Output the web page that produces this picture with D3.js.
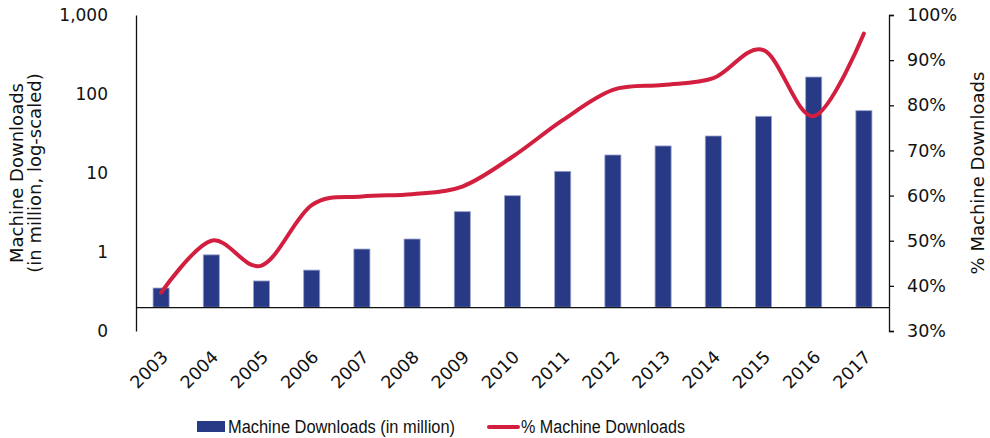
<!DOCTYPE html>
<html>
<head>
<meta charset="utf-8">
<script src="https://cdn.jsdelivr.net/npm/d3@7"></script>
<style>
  html, body { margin: 0; padding: 0; background: #fff; }
  svg { display: block; }
  .axis-label { font-family: "DejaVu Sans", sans-serif; fill: #111; }
  .legend-text { font-family: "Liberation Sans", sans-serif; fill: #111; }
</style>
</head>
<body>
<svg id="chart" width="990" height="438"></svg>
<script>
// Yearly categories
const years = ["2003","2004","2005","2006","2007","2008","2009","2010","2011","2012","2013","2014","2015","2016","2017"];
// Machine downloads, in million (left, log axis)
const downloads = [0.35, 0.92, 0.43, 0.59, 1.09, 1.46, 3.24, 5.16, 10.5, 16.9, 22.0, 29.4, 52.2, 164, 61.5];
// Share of downloads made by machines (right axis)
const machineShare = [0.385, 0.50, 0.445, 0.579, 0.598, 0.603, 0.62, 0.686, 0.767, 0.834, 0.845, 0.86, 0.922, 0.776, 0.959];
// Axis tick values
const leftTicks = [0.1, 1, 10, 100, 1000];
const rightTicks = [0.3, 0.4, 0.5, 0.6, 0.7, 0.8, 0.9, 1.0];
// Value where the category axis crosses the log axis
const axisCross = 0.2;

const barColor = "#283a85";
const lineColor = "#d31f3f";

const svg = d3.select("#chart");
const plot = { left: 136, right: 889, top: 15, bottom: 331 };

const x = d3.scaleBand()
  .domain(years)
  .range([plot.left, plot.right])
  .paddingInner(0.68)
  .paddingOuter(0.34);

const yLeft = d3.scaleLog().domain([0.1, 1000]).range([plot.bottom, plot.top]);
const yRight = d3.scaleLinear().domain([0.3, 1.0]).range([plot.bottom, plot.top]);

const baseY = yLeft(axisCross);

// Bars
svg.append("g")
  .selectAll("rect")
  .data(years)
  .join("rect")
  .attr("x", d => x(d))
  .attr("width", x.bandwidth())
  .attr("y", (d, i) => yLeft(downloads[i]))
  .attr("height", (d, i) => baseY - yLeft(downloads[i]))
  .attr("fill", barColor)
  .attr("stroke", "#9aa3cc")
  .attr("stroke-width", 0.8);

// Left axis (log)
const leftAxis = d3.axisLeft(yLeft)
  .tickValues(leftTicks)
  .tickSize(0)
  .tickPadding(28)
  .tickFormat(d => d < 1 ? "0" : d3.format(",")(d));
const gL = svg.append("g").attr("transform", `translate(${plot.left},0)`).call(leftAxis);
gL.select(".domain").attr("stroke", "#111").attr("stroke-width", 1.3);
gL.selectAll("text").attr("class", "axis-label").attr("font-size", 17).attr("font-family", null).attr("fill", "#111");

// Right axis (percent)
const rightAxis = d3.axisRight(yRight)
  .tickValues(rightTicks)
  .tickSize(5)
  .tickSizeOuter(5)
  .tickPadding(13)
  .tickFormat(d3.format(".0%"));
const gR = svg.append("g").attr("transform", `translate(${plot.right},0)`).call(rightAxis);
gR.select(".domain").attr("stroke", "#111").attr("stroke-width", 1.3);
gR.selectAll(".tick line").attr("stroke", "#111").attr("stroke-width", 1.3);
gR.selectAll("text").attr("class", "axis-label").attr("font-size", 17.5).attr("font-family", null).attr("fill", "#111");

// Category axis line and rotated year labels
const gX = svg.append("g").attr("transform", `translate(0,${baseY})`)
  .call(d3.axisBottom(x).tickSize(0).tickSizeOuter(0).tickPadding(0));
gX.select(".domain").attr("stroke", "#111").attr("stroke-width", 1.3);
gX.selectAll(".tick text")
  .attr("class", "axis-label")
  .attr("font-family", null)
  .attr("font-size", 17.5)
  .attr("fill", "#111")
  .attr("text-anchor", "end")
  .attr("dy", 0)
  .attr("y", 0)
  .attr("transform", "translate(8,51) rotate(-45)");

// Machine share line
const line = d3.line()
  .x((d, i) => x(years[i]) + x.bandwidth() / 2)
  .y(d => yRight(d))
  .curve(d3.curveCardinal.tension(0));
svg.append("path")
  .datum(machineShare)
  .attr("d", line)
  .attr("fill", "none")
  .attr("stroke", lineColor)
  .attr("stroke-width", 4)
  .attr("stroke-linecap", "round");

// Axis titles
const midY = (plot.top + plot.bottom) / 2;
const leftTitle = svg.append("text")
  .attr("class", "axis-label")
  .attr("font-size", 18)
  .attr("text-anchor", "middle")
  .attr("transform", `translate(0,${midY}) rotate(-90)`);
leftTitle.append("tspan").attr("x", 0).attr("y", 23).text("Machine Downloads");
leftTitle.append("tspan").attr("x", 0).attr("y", 41).text("(in million, log-scaled)");

svg.append("text")
  .attr("class", "axis-label")
  .attr("font-size", 18)
  .attr("text-anchor", "middle")
  .attr("transform", `translate(984,${midY}) rotate(-90)`)
  .text("% Machine Downloads");

// Legend
const legend = svg.append("g");
legend.append("rect")
  .attr("x", 197).attr("y", 421).attr("width", 28).attr("height", 11)
  .attr("fill", barColor);
legend.append("text")
  .attr("class", "legend-text")
  .attr("font-size", 18)
  .attr("x", 228).attr("y", 433)
  .attr("textLength", 227)
  .attr("lengthAdjust", "spacingAndGlyphs")
  .text("Machine Downloads (in million)");
legend.append("line")
  .attr("x1", 489).attr("x2", 518).attr("y1", 427).attr("y2", 427)
  .attr("stroke", lineColor).attr("stroke-width", 4).attr("stroke-linecap", "round");
legend.append("text")
  .attr("class", "legend-text")
  .attr("font-size", 18)
  .attr("x", 521).attr("y", 433)
  .attr("textLength", 164)
  .attr("lengthAdjust", "spacingAndGlyphs")
  .text("% Machine Downloads");
</script>
</body>
</html>
